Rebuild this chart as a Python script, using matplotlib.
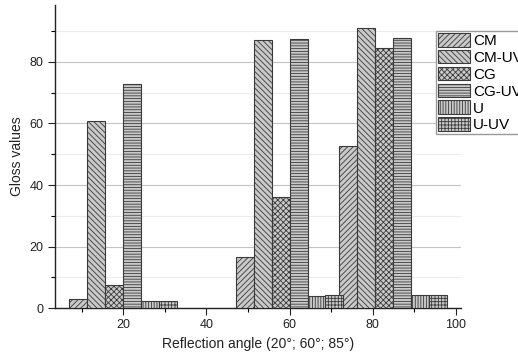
import matplotlib.pyplot as plt
import numpy as np
from matplotlib.ticker import MultipleLocator

plt.rcParams['font.family'] = ['Liberation Sans', 'DejaVu Sans']
plt.rcParams['hatch.linewidth'] = 0.6

angles = [20, 60, 85]
labels = ['CM', 'CM-UV', 'CG', 'CG-UV', 'U', 'U-UV']
cm = [3.0, 16.7, 52.7]
cm_uv = [60.9, 87.1, 90.9]
cg = [7.6, 36.0, 84.6]
cg_uv = [72.7, 87.5, 87.8]
u = [2.4, 3.9, 4.3]
u_uv = [2.4, 4.3, 4.4]
series = [cm, cm_uv, cg, cg_uv, u, u_uv]
hatches = ['//////', '\\\\\\\\\\\\', 'xxxxxx', '------', '||||||', '+++++']

fig = plt.figure(figsize=(5.18, 3.57), dpi=100)
ax = fig.add_axes([0.106, 0.1364, 0.784, 0.85])

w = 4.33
x = np.array(angles, dtype=float)
for i, (vals, lab, h) in enumerate(zip(series, labels, hatches)):
    ax.bar(x + (i - 3) * w, vals, width=w, align='edge', color='#c9c9c9',
           edgecolor='#3a3a3a', linewidth=0.8, hatch=h, label=lab, zorder=3)

ax.set_xlim(3.5, 101.3)
ax.set_ylim(0, 98.5)
ax.xaxis.set_minor_locator(MultipleLocator(10))
ax.yaxis.set_minor_locator(MultipleLocator(10))
ax.set_xticks([20, 40, 60, 80, 100])
ax.set_yticks([0, 20, 40, 60, 80])
ax.tick_params(which='major', direction='out', length=5, width=0.8, labelsize=9, pad=3, colors='#222222')
ax.tick_params(which='minor', direction='out', length=3, width=0.8)
ax.grid(which='major', axis='y', color='#c4c4c4', linewidth=0.8, zorder=0)
ax.grid(which='minor', axis='y', color='#ececec', linewidth=0.8, zorder=0)
ax.set_axisbelow(True)
for s in ['top', 'right']:
    ax.spines[s].set_visible(False)
for s in ['left', 'bottom']:
    ax.spines[s].set_linewidth(1.0)
    ax.spines[s].set_color('#222222')

ax.set_xlabel('Reflection angle (20°; 60°; 85°)', fontsize=10, color='#222222', labelpad=4)
ax.set_ylabel('Gloss values', fontsize=10, color='#222222', labelpad=4)

fig.legend(loc='upper left', bbox_to_anchor=(436 / 518, 1 - 31 / 357), fontsize=11,
           handlelength=2.1, handleheight=1.0, labelspacing=0.12, handletextpad=0.2,
           borderpad=0.12, borderaxespad=0, frameon=True, fancybox=False,
           edgecolor='#999999', framealpha=1)

fig.savefig('out.png', dpi=100)
